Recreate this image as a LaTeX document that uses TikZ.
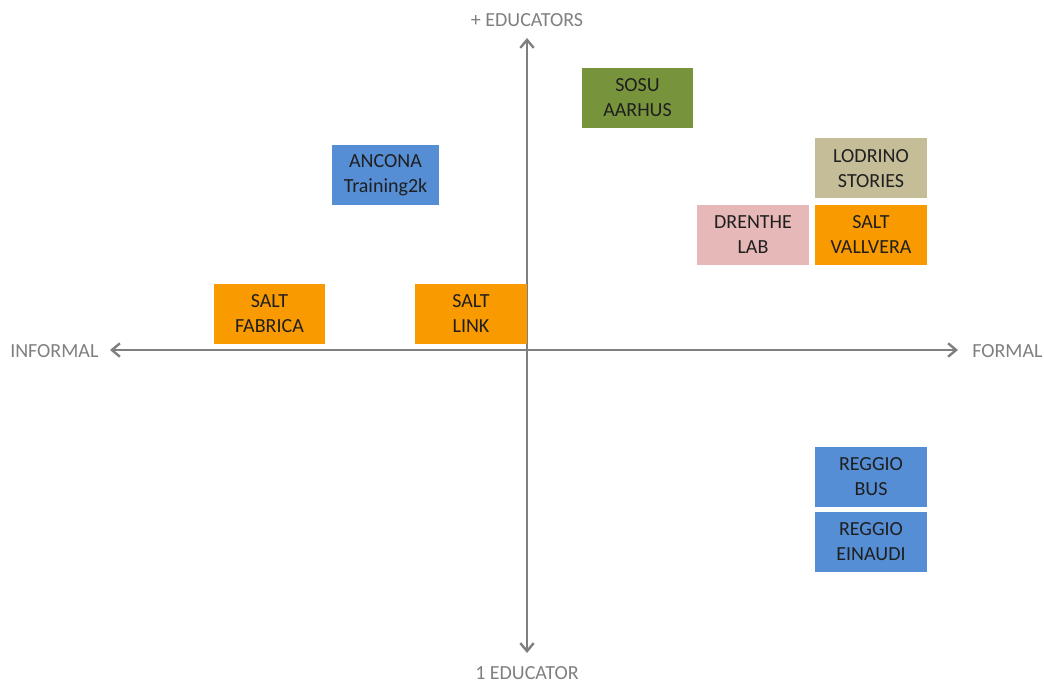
\documentclass[tikz,border=0pt]{standalone}
\usepackage{fontspec}
\setmainfont{Carlito}
\usetikzlibrary{arrows.meta}
\definecolor{axisgray}{HTML}{7F7F7F}
\definecolor{bblue}{HTML}{558ED5}
\definecolor{bgreen}{HTML}{77933C}
\definecolor{bkhaki}{HTML}{C4BD97}
\definecolor{bpink}{HTML}{E6B9B8}
\definecolor{borange}{HTML}{F99A00}
\definecolor{btext}{HTML}{1F1F1F}
\tikzset{
  box/.style={rectangle, draw=none, minimum width=83.5pt, minimum height=45pt,
    inner sep=0pt, align=center, text=btext,
    font=\fontsize{15}{18.75}\selectfont},
  axislabel/.style={inner sep=0pt, text=axisgray, font=\fontsize{15}{18}\selectfont},
  axis/.style={draw=axisgray, line width=1.8pt,
    {Straight Barb[length=6pt,width=10pt,line width=1.8pt]}-{Straight Barb[length=6pt,width=10pt,line width=1.8pt]}}
}
\begin{document}
\begin{tikzpicture}[x=0.75pt,y=-0.75pt]
\useasboundingbox (0,0) rectangle (1044,684);
% axis labels
\node[axislabel] (top) at (527,20) {+ EDUCATORS};
\node[axislabel] (bottom) at (527,673) {1 EDUCATOR};
\node[axislabel, anchor=west] (informal) at (10,351) {INFORMAL};
\node[axislabel, anchor=west] (formal) at (972,351) {FORMAL};
% axes
\coordinate (ttip) at (527,38);
\coordinate (btip) at (527,653);
\coordinate (ltip) at (110,350);
\coordinate (rtip) at (958,350);
\draw[axis] (btip) -- (ttip);
\draw[axis] (ltip) -- (rtip);
% boxes
\node[box, fill=bgreen] (sosu) at (637.5,98) {SOSU\\AARHUS};
\node[box, fill=bblue, minimum width=80.25pt] (ancona) at (385.5,175) {ANCONA\\Training2k};
\node[box, fill=bkhaki] (lodrino) at (871,168.5) {LODRINO\\STORIES};
\node[box, fill=bpink] (drenthe) at (753,235) {DRENTHE\\LAB};
\node[box, fill=borange] (vallvera) at (871,235) {SALT\\VALLVERA};
\node[box, fill=borange] (fabrica) at (269.5,313.5) {SALT\\FABRICA};
\node[box, fill=borange] (link) at (471,313.5) {SALT\\LINK};
\node[box, fill=bblue] (bus) at (871,477) {REGGIO\\BUS};
\node[box, fill=bblue] (einaudi) at (871,541.5) {REGGIO\\EINAUDI};
\end{tikzpicture}
\end{document}
